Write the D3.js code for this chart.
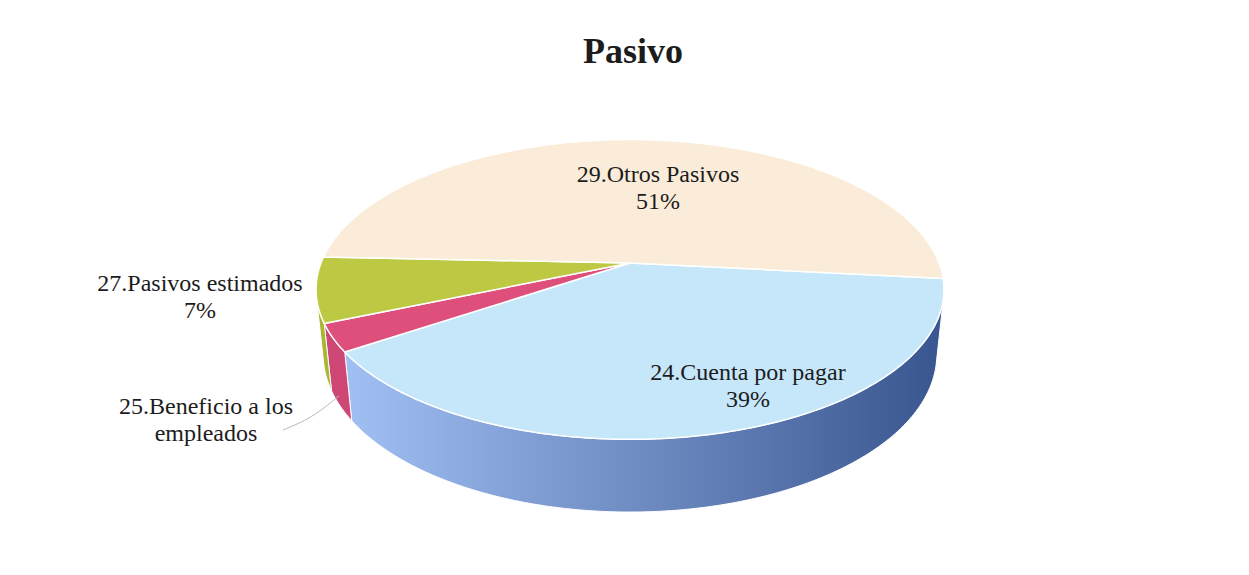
<!DOCTYPE html>
<html>
<head>
<meta charset="utf-8">
<script src="https://cdn.jsdelivr.net/npm/d3@7/dist/d3.min.js"></script>
<style>
body { margin: 0; background: #fff; }
text { font-family: 'Liberation Serif', 'Times New Roman', serif; fill: #1c1c1c; }
</style>
</head>
<body>
<div id="chart"></div>
<script>
// Data
var categories  = [ '24.Cuenta por pagar', '25.Beneficio a los empleados', '27.Pasivos estimados', '29.Otros Pasivos' ];
var values      = [ 39, 3, 7, 51 ];
var label_lines = [
    [ '24.Cuenta por pagar', '39%' ],
    [ '25.Beneficio a los', 'empleados' ],
    [ '27.Pasivos estimados', '7%' ],
    [ '29.Otros Pasivos', '51%' ]
];

// Styles
var top_colors  = [ '#c6e6fa', '#de4f7b', '#bdc942', '#fbecd9' ];
var wall_colors = [ [ '#a3c2f5', '#39558f' ], [ '#cf4774', '#b83862' ], [ '#aab632', '#9da92a' ], [ '#efe0c8', '#e6d6bd' ] ];

var chart_width  = 1249;
var chart_height = 575;

// 3D projection of the pie disk
var cx        = 630,
    cy        = 263,
    focal     = 1545,
    cam_dist  = 5,
    sin_a     = 0.47,
    cos_a     = Math.sqrt(1 - sin_a * sin_a),
    thickness = 0.24,
    start     = 96 * Math.PI / 180;

function project(phi, r, y) {
    var X = r * Math.sin(phi),
        Z = -r * Math.cos(phi);
    var depth = cam_dist - y * sin_a - Z * cos_a;
    var up    = y * cos_a - Z * sin_a;
    return [ cx + focal * X / depth, cy - focal * up / depth ];
}

function arcPoints(a0, a1, y) {
    var n = Math.max(2, Math.ceil(Math.abs(a1 - a0) / 0.01));
    var pts = [];
    for (var i = 0; i <= n; i++) {
        pts.push(project(a0 + (a1 - a0) * i / n, 1, y));
    }
    return pts;
}

var line = d3.line();

var svg = d3.select('#chart')
    .append('svg')
    .attr('width', chart_width)
    .attr('height', chart_height);

var pie = d3.pie()
    .sort(null)
    .value(function(d) { return d; })
    .startAngle(start)
    .endAngle(start + 2 * Math.PI);

var arcs = pie(values);

// gradients for the side walls
var defs = svg.append('defs');
wall_colors.forEach(function(c, i) {
    var g = defs.append('linearGradient')
        .attr('id', 'wall-' + i)
        .attr('gradientUnits', 'userSpaceOnUse')
        .attr('x1', 330).attr('x2', 946)
        .attr('y1', 0).attr('y2', 0);
    g.append('stop').attr('offset', 0).attr('stop-color', c[0]);
    g.append('stop').attr('offset', 1).attr('stop-color', c[1]);
});

// visible range of the outer wall
var sil = Math.acos(-1 / (cam_dist * cos_a));
var vis = [ [ sil, 2 * Math.PI - sil ], [ sil + 2 * Math.PI, 4 * Math.PI - sil ] ];

var walls = svg.append('g').attr('class', 'walls');
arcs.forEach(function(d, i) {
    vis.forEach(function(v) {
        var a0 = Math.max(d.startAngle, v[0]),
            a1 = Math.min(d.endAngle, v[1]);
        if (a1 <= a0) return;
        var pts = arcPoints(a0, a1, 0).concat(arcPoints(a1, a0, -thickness));
        walls.append('path')
            .attr('d', line(pts) + 'Z')
            .attr('fill', 'url(#wall-' + i + ')')
            .attr('stroke', '#fff')
            .attr('stroke-width', 1);
    });
});

// top faces
svg.append('g')
    .attr('class', 'tops')
    .selectAll('path')
    .data(arcs)
    .enter()
    .append('path')
    .attr('d', function(d) {
        return line([ [ cx, cy ] ].concat(arcPoints(d.startAngle, d.endAngle, 0))) + 'Z';
    })
    .attr('fill', function(d, i) { return top_colors[i]; })
    .attr('stroke', '#fff')
    .attr('stroke-width', 1.5)
    .attr('stroke-linejoin', 'round');

// leader line for the small slice
var b = arcs[1];
var end_pt = project((b.startAngle + b.endAngle) / 2, 1, -thickness * 0.85);
svg.append('path')
    .attr('d', d3.line().curve(d3.curveBasis)([ [ 283, 430 ], [ 312, 418 ], end_pt ]))
    .attr('fill', 'none')
    .attr('stroke', '#b5b8c2')
    .attr('stroke-width', 1);

// labels
var label_pos = [ [ 748, 380 ], [ 206, 414 ], [ 200, 291 ], [ 658, 182 ] ];
var labels = svg.append('g').attr('class', 'labels');
label_lines.forEach(function(lines, i) {
    var t = labels.append('text')
        .attr('x', label_pos[i][0])
        .attr('y', label_pos[i][1])
        .attr('text-anchor', 'middle')
        .attr('font-family', "'Liberation Serif', 'Times New Roman', serif")
        .style('font-size', '24px');
    lines.forEach(function(s, k) {
        t.append('tspan')
            .attr('x', label_pos[i][0])
            .attr('dy', k === 0 ? 0 : 27)
            .text(s);
    });
});

// title
svg.append('text')
    .attr('x', 633)
    .attr('y', 63)
    .attr('text-anchor', 'middle')
    .attr('font-family', "'Liberation Serif', 'Times New Roman', serif")
    .style('font-size', '36px')
    .style('font-weight', 'bold')
    .text('Pasivo');
</script>
</body>
</html>
